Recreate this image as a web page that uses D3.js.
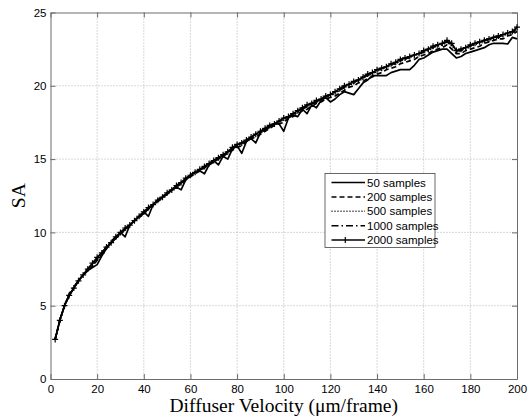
<!DOCTYPE html>
<html><head><meta charset="utf-8">
<script src="https://cdn.jsdelivr.net/npm/d3@7"></script>
<style>body{margin:0;background:#fff}svg{display:block}</style>
</head><body>
<script>
const velocity = [2,4,6,8,10,12,14,16,18,20,22,24,26,28,30,32,34,36,38,40,42,44,46,48,50,52,54,56,58,60,62,64,66,68,70,72,74,76,78,80,82,84,86,88,90,92,94,96,98,100,102,104,106,108,110,112,114,116,118,120,122,124,126,128,130,132,134,136,138,140,142,144,146,148,150,152,154,156,158,160,162,164,166,168,170,172,174,176,178,180,182,184,186,188,190,192,194,196,198,200];
const s50 = [2.7,4.0,5.0,5.7,6.2,6.7,7.1,7.4,7.6,7.8,
 8.4,8.9,9.3,9.6,10.0,9.7,10.5,10.8,11.1,11.4,
 11.1,11.9,12.2,12.4,12.6,12.9,13.1,12.9,13.6,13.9,
 14.1,14.2,14.0,14.6,14.9,14.6,15.2,15.0,15.7,15.9,
 15.4,16.2,16.4,16.1,16.8,17.0,17.2,17.4,17.4,16.9,
 17.8,18.0,17.9,18.4,18.1,18.7,18.5,19.0,19.2,18.9,
 19.1,19.4,19.6,19.5,19.4,19.8,20.2,20.4,20.7,20.7,
 20.7,20.7,20.9,21.0,21.1,21.1,21.1,21.4,21.8,21.9,
 22.1,22.3,22.4,22.5,22.5,22.2,21.9,22.0,22.2,22.3,
 22.4,22.5,22.6,22.8,22.9,22.9,22.9,22.85,23.3,23.2];
const s200 = [2.7,4.0,5.0,5.7,6.2,6.7,7.1,7.4,7.7,8.1,
 8.5,8.9,9.3,9.6,9.9,10.2,10.5,10.8,11.0,11.3,
 11.6,11.9,12.1,12.4,12.6,12.9,13.1,13.3,13.6,13.8,
 14.0,14.2,14.4,14.6,14.8,15.0,15.2,15.4,15.6,15.8,
 15.9,16.2,16.4,16.5,16.7,16.9,17.1,17.3,17.4,17.5,
 17.8,17.9,18.1,18.3,18.4,18.6,18.8,18.9,19.1,19.2,
 19.3,19.5,19.7,19.9,20.0,20.2,20.3,20.5,20.6,20.8,
 20.9,21.1,21.2,21.3,21.5,21.6,21.7,21.8,22.0,22.1,
 22.2,22.4,22.5,22.6,22.8,22.5,22.2,22.2,22.4,22.5,
 22.6,22.7,22.9,23.0,23.1,23.2,23.2,23.4,23.5,23.7];
const s500 = [2.7,4.0,5.0,5.7,6.2,6.7,7.1,7.5,7.8,8.2,
 8.6,9.0,9.3,9.6,10.0,10.2,10.5,10.8,11.1,11.3,
 11.6,11.9,12.1,12.4,12.7,12.9,13.1,13.4,13.6,13.8,
 14.1,14.3,14.4,14.7,14.9,15.0,15.3,15.5,15.7,15.9,
 16.1,16.2,16.5,16.7,16.8,17.1,17.2,17.4,17.5,17.7,
 17.9,18.0,18.2,18.4,18.6,18.7,18.9,19.1,19.2,19.3,
 19.5,19.7,19.9,20.0,20.2,20.4,20.5,20.7,20.8,21.0,
 21.1,21.3,21.4,21.5,21.7,21.8,21.9,22.1,22.2,22.3,
 22.4,22.6,22.7,22.8,23.0,22.7,22.3,22.4,22.5,22.7,
 22.8,22.9,23.0,23.1,23.2,23.3,23.4,23.5,23.6,23.8];
const s1000 = [2.7,4.0,5.0,5.8,6.3,6.7,7.1,7.5,7.9,8.2,
 8.6,9.0,9.4,9.7,10.0,10.2,10.5,10.8,11.1,11.4,
 11.6,11.9,12.2,12.5,12.7,12.9,13.2,13.4,13.6,13.9,
 14.1,14.3,14.5,14.7,14.9,15.1,15.3,15.5,15.7,15.9,
 16.1,16.3,16.5,16.7,16.9,17.0,17.2,17.4,17.6,17.7,
 17.9,18.1,18.3,18.4,18.6,18.8,18.9,19.1,19.2,19.4,
 19.6,19.7,19.9,20.1,20.2,20.4,20.6,20.7,20.9,21.0,
 21.2,21.3,21.4,21.6,21.7,21.8,22.0,22.1,22.2,22.3,
 22.5,22.6,22.8,22.9,23.0,22.8,22.4,22.4,22.6,22.7,
 22.9,23.0,23.1,23.2,23.3,23.3,23.5,23.6,23.7,23.9];
const s2000 = [2.7,4.0,5.0,5.7,6.2,6.7,7.1,7.5,7.9,8.3,
 8.6,9.0,9.3,9.7,10.0,10.3,10.5,10.8,11.1,11.4,
 11.7,11.9,12.2,12.4,12.7,12.9,13.2,13.4,13.7,13.9,
 14.1,14.3,14.5,14.7,14.9,15.1,15.3,15.5,15.8,16.0,
 16.1,16.3,16.5,16.7,16.9,17.1,17.3,17.4,17.6,17.8,
 17.9,18.1,18.3,18.5,18.7,18.8,19.0,19.1,19.3,19.4,
 19.6,19.8,20.0,20.1,20.3,20.4,20.6,20.8,20.9,21.1,
 21.2,21.3,21.5,21.6,21.8,21.9,22.0,22.1,22.2,22.4,
 22.5,22.7,22.8,22.9,23.1,22.9,22.4,22.5,22.6,22.8,
 22.9,23.0,23.1,23.2,23.3,23.4,23.5,23.6,23.7,24.0];
const seriesNames = ["50 samples","200 samples","500 samples","1000 samples","2000 samples"];
const seriesData = [s50,s200,s500,s1000,s2000];
const xTicks = [0,20,40,60,80,100,120,140,160,180,200];
const yTicks = [0,5,10,15,20,25];
const xLabel = "Diffuser Velocity (\u03bcm/frame)";
const yLabel = "SA";

const W = 528, H = 418;
const L = 50.5, R = 517, T = 12.5, B = 379;
const dashes = [null, "5,3", "1,2", "7,3,1.5,3", null];
const sans = "'Liberation Sans', Arial, sans-serif";
const serif = "'Liberation Serif', 'Times New Roman', serif";

const svg = d3.select("body").append("svg").attr("width", W).attr("height", H);
const x = d3.scaleLinear().domain([0,200]).range([L,R]);
const y = d3.scaleLinear().domain([0,25]).range([B,T]);

// grid
const grid = svg.append("g").attr("stroke","#a0a0a0").attr("stroke-width",0.8).attr("stroke-dasharray","1,2");
grid.selectAll(".gx").data(xTicks.slice(1,-1)).join("line")
  .attr("x1",d=>x(d)).attr("x2",d=>x(d)).attr("y1",T).attr("y2",B);
grid.selectAll(".gy").data(yTicks.slice(1,-1)).join("line")
  .attr("x1",L).attr("x2",R).attr("y1",d=>y(d)).attr("y2",d=>y(d));

// axes (MATLAB-like inward ticks)
const axStyle = g => { g.select(".domain").attr("stroke","#6b6b6b");
  g.selectAll(".tick line").attr("stroke","#6b6b6b");
  g.selectAll(".tick text").attr("fill","#000").style("font-family",sans).style("font-size","11.5px"); };
const gb = svg.append("g").attr("transform",`translate(0,${B})`)
  .call(d3.axisBottom(x).tickValues(xTicks).tickSize(-5).tickSizeOuter(0).tickPadding(14).tickFormat(d3.format("d")))
  .call(axStyle);
gb.selectAll(".tick text").attr("dy", null);
svg.append("g").attr("transform",`translate(0,${T})`)
  .call(d3.axisTop(x).tickValues(xTicks).tickSize(-5).tickSizeOuter(0).tickFormat(""))
  .call(axStyle);
svg.append("g").attr("transform",`translate(${L},0)`)
  .call(d3.axisLeft(y).tickValues(yTicks).tickSize(-5).tickSizeOuter(0).tickPadding(4).tickFormat(d3.format("d")))
  .call(axStyle);
svg.append("g").attr("transform",`translate(${R},0)`)
  .call(d3.axisRight(y).tickValues(yTicks).tickSize(-5).tickSizeOuter(0).tickFormat(""))
  .call(axStyle);

// lines
const line = d3.line().x((d,i)=>x(velocity[i])).y(d=>y(d));
seriesData.forEach((s,k)=>{
  svg.append("path").datum(s).attr("d",line).attr("fill","none")
    .attr("stroke","#000").attr("stroke-width",1.7)
    .attr("stroke-dasharray",dashes[k]).attr("stroke-linejoin","round");
});
// markers for 2000 samples
const m = svg.append("g").attr("stroke","#000").attr("stroke-width",1.2);
m.selectAll("path").data(s2000).join("path")
  .attr("d",(d,i)=>{const cx=x(velocity[i]), cy=y(d), r=3;return `M${cx-r},${cy}H${cx+r}M${cx},${cy-r}V${cy+r}`;});

// legend
const lg = svg.append("g");
lg.append("rect").attr("x",325).attr("y",173.5).attr("width",110).attr("height",74)
  .attr("fill","#fff").attr("stroke","#444").attr("stroke-width",0.8);
seriesNames.forEach((n,k)=>{
  const yy = 182.5 + k*14.4;
  lg.append("line").attr("x1",331.5).attr("x2",365).attr("y1",yy).attr("y2",yy)
    .attr("stroke","#000").attr("stroke-width",1.5).attr("stroke-dasharray",dashes[k]);
  if(k===4) lg.append("path").attr("d",`M345.3,${yy-3}V${yy+3}`).attr("stroke","#000").attr("stroke-width",1.2);
  lg.append("text").attr("x",367).attr("y",yy+4).text(n)
    .style("font-family",sans).style("font-size","11.5px").attr("fill","#000");
});

// axis labels
svg.append("text").attr("x",(L+R)/2).attr("y",412).attr("text-anchor","middle")
  .style("font-family",serif).style("font-size","19.5px").text(xLabel);
svg.append("text").attr("transform",`translate(25,${(T+B)/2}) rotate(-90)`).attr("text-anchor","middle")
  .style("font-family",serif).style("font-size","19.5px").text(yLabel);
</script>
</body></html>
